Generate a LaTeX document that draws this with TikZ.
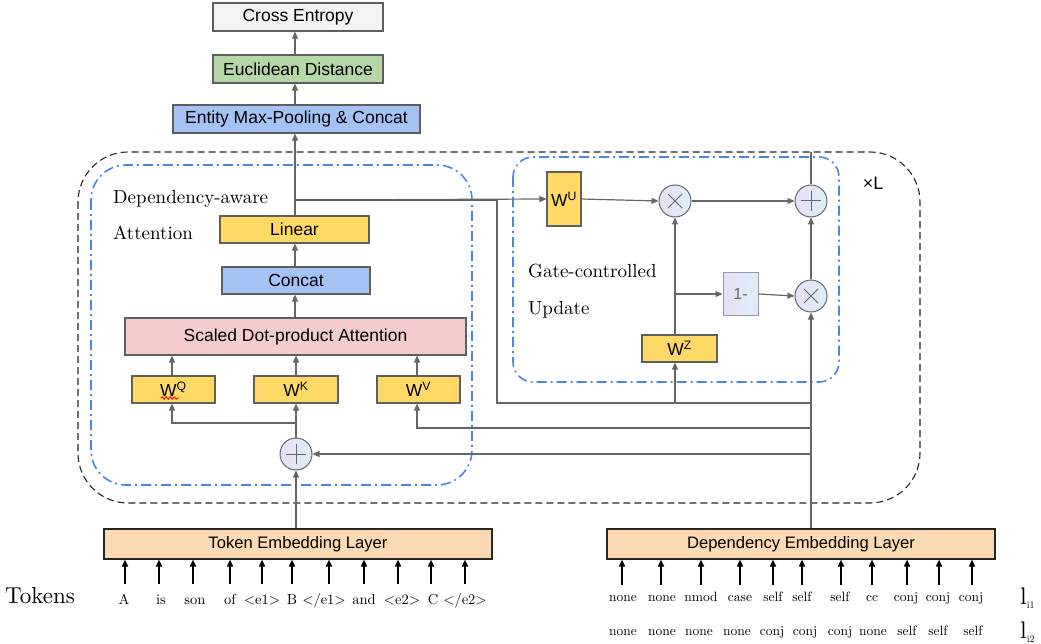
\documentclass[tikz,border=0pt]{standalone}
\usepackage{fontspec}
\newfontfamily\arialf{Liberation Sans}
\newfontfamily\lmten{lmroman10-regular}[Extension=.otf]
\usetikzlibrary{arrows.meta,decorations.pathmorphing,calc}
\definecolor{cYel}{HTML}{FFD966}
\definecolor{cBlue}{HTML}{A4C2F4}
\definecolor{cPink}{HTML}{F4CCCC}
\definecolor{cGreen}{HTML}{B6D7A8}
\definecolor{cGray}{HTML}{F3F3F3}
\definecolor{cPeach}{HTML}{FBD9B3}
\definecolor{cBorder}{HTML}{5F5F5F}
\definecolor{cLine}{HTML}{666666}
\definecolor{cLav}{HTML}{E9DFF6}
\definecolor{cLb}{HTML}{DDEEFA}
\definecolor{cDash}{HTML}{4A86E8}
\begin{document}
\begin{tikzpicture}[x=1pt,y=-1pt,
  conn/.style={draw=cLine, line width=1.2pt, -{Triangle[length=7pt,width=6pt]}},
  plain/.style={draw=cLine, line width=1.2pt},
  blk/.style={draw=black, line width=1.6pt, -{Triangle[length=7pt,width=6pt]}},
  box/.style={draw=cBorder, line width=1.1pt, inner sep=0pt, font=\arialf\fontsize{17.5}{20}\selectfont},
  embbox/.style={draw=black!85, line width=1.1pt, inner sep=0pt, fill=cPeach, font=\arialf\fontsize{16.6}{20}\selectfont},
  circ/.style={circle, draw=cLine, line width=1pt, minimum size=32pt, inner sep=0pt, left color=cLav, right color=cLb},
  plussym/.style={path picture={\draw[cLine, line width=1pt]
      ([xshift=-10pt]path picture bounding box.center) -- ([xshift=10pt]path picture bounding box.center)
      ([yshift=-10pt]path picture bounding box.center) -- ([yshift=10pt]path picture bounding box.center);}},
  timessym/.style={path picture={\draw[cLine, line width=1pt]
      ([shift={(-7pt,-7pt)}]path picture bounding box.center) -- ([shift={(7pt,7pt)}]path picture bounding box.center)
      ([shift={(-7pt,7pt)}]path picture bounding box.center) -- ([shift={(7pt,-7pt)}]path picture bounding box.center);}},
  serlbl/.style={anchor=base west, inner sep=0pt, font=\lmten\fontsize{19}{22}\selectfont},
  tok/.style={anchor=base, inner sep=0pt, font=\lmten\fontsize{14.5}{18}\selectfont},
  dep/.style={anchor=base, inner sep=0pt, font=\lmten\fontsize{13.5}{17}\selectfont},
  outerbox/.style={draw=black!85, line width=1.1pt, dash pattern=on 7pt off 4pt},
  dashdotbox/.style={draw=cDash, line width=1.6pt, dash pattern=on 10pt off 4pt on 2pt off 4pt}
]
\useasboundingbox (0,0) rectangle (1041,644);

% group frames
\draw[outerbox, rounded corners=50pt] (78,152) rectangle (920,503);
\draw[dashdotbox, rounded corners=35pt] (91,165) rectangle (472,485);
\draw[dashdotbox, rounded corners=20pt] (513,157) rectangle (839,382);

% top boxes
\node[box, fill=cGray, minimum width=170pt, minimum height=28pt] (cross) at (298,17) {Cross Entropy};
\node[box, fill=cGreen, minimum width=170pt, minimum height=28pt] (eucl) at (298,69) {Euclidean Distance};
\node[box, fill=cBlue, minimum width=247pt, minimum height=28pt] (entity) at (296.5,119) {Entity Max-Pooling \& Concat};

% attention block
\node[box, fill=cYel, minimum width=149pt, minimum height=27pt] (linear) at (294.5,229.5) {Linear};
\node[box, fill=cBlue, minimum width=148pt, minimum height=27pt] (concat) at (296,280.5) {Concat};
\node[box, fill=cPink, minimum width=341pt, minimum height=37pt] (sdpa) at (295.5,336.5) {Scaled Dot-product Attention};
\node[box, fill=cYel, minimum width=83pt, minimum height=27pt] (wq) at (173.5,389.5) {W\textsuperscript{Q}};
\node[box, fill=cYel, minimum width=84pt, minimum height=27pt] (wk) at (296,389.5) {W\textsuperscript{K}};
\node[box, fill=cYel, minimum width=83pt, minimum height=27pt] (wv) at (418.5,389.5) {W\textsuperscript{V}};
\node[circ, plussym] (plusL) at (296,454) {};
\draw[red, line width=0.9pt, decorate, decoration={snake, amplitude=1.2pt, segment length=4pt}] (161,398) -- (179,398);

\node[serlbl] (lblA1) at (113,204) {Dependency-aware};
\node[serlbl] (lblA2) at (113,240) {Attention};

% gate block
\node[box, fill=cYel, minimum width=34pt, minimum height=54pt] (wu) at (564,199) {W\textsuperscript{U}};
\node[circ, timessym] (mulU) at (675,201) {};
\node[circ, plussym] (plusR) at (811,201) {};
\node[circ, timessym] (mulL) at (811,296) {};
\node[draw=black!40, line width=1pt, left color=cLav, right color=cLb, minimum width=35pt, minimum height=42pt, inner sep=0pt, text=cLine, font=\arialf\fontsize{16}{18}\selectfont] (onem) at (740.5,294) {1-};
\node[box, fill=cYel, minimum width=75pt, minimum height=27pt] (wz) at (679.5,348.5) {W\textsuperscript{Z}};

\node[serlbl] (lblG1) at (528,278) {Gate-controlled};
\node[serlbl] (lblG2) at (528,314) {Update};
\node[inner sep=0pt, font=\arialf\fontsize{18}{20}\selectfont] (xl) at (873,183) {×L};

% embedding layers
\node[embbox, minimum width=388pt, minimum height=30pt] (tokemb) at (298,544) {Token Embedding Layer};
\node[embbox, minimum width=388pt, minimum height=30pt] (depemb) at (801,544) {Dependency Embedding Layer};

% junction coordinates
\coordinate (ju) at (295,200);
\coordinate (jd1) at (497,200);
\coordinate (jd2) at (497,403);
\coordinate (jd3) at (811,403);
\coordinate (jzb) at (675,403);
\coordinate (jv) at (811,428);
\coordinate (jp) at (811,454);
\coordinate (jq) at (296,423);
\coordinate (jz) at (675,294);
\coordinate (topL) at (811,152);

% top stack connectors
\draw[conn] (eucl.north -| 295,0) -- (cross.south -| 295,0);
\draw[conn] (entity.north -| 295,0) -- (eucl.south -| 295,0);
\draw[conn] (linear.north -| 295,0) -- (entity.south -| 295,0);
\draw[conn] (concat.north -| 295,0) -- (linear.south -| 295,0);
\draw[conn] (sdpa.north -| 295,0) -- (concat.south -| 295,0);
\draw[conn] (wq.north -| 172,0) -- (sdpa.south -| 172,0);
\draw[conn] (wk.north) -- (sdpa.south -| wk.north);
\draw[conn] (wv.north -| 417,0) -- (sdpa.south -| 417,0);
\draw[conn] (plusL.north) -- (wk.south);
\draw[conn] (jq) -| (wq.south -| 172,0);
\draw[conn] (tokemb.north -| plusL) -- (plusL.south);

% dependency stream
\draw[conn] (depemb.north -| mulL) -- (mulL.south);
\draw[conn] (jp) -- (plusL.east);
\draw[conn] (jv) -| (wv.south -| 417,0);

% linear output to gate
\draw[conn] (ju) -- (wu.west);
\draw[plain] (ju) -- (jd1) -- (jd2) -- (jd3);
\draw[conn] (jzb) -- (wz.south -| jzb);
\draw[conn] (wu.east) -- (mulU.west);
\draw[conn] (mulU.east) -- (plusR.west);
\draw[conn] (wz.north -| mulU) -- (mulU.south);
\draw[conn] (jz) -- (onem.west);
\draw[conn] (onem.east) -- (mulL.west);
\draw[conn] (mulL.north) -- (plusR.south);
\draw[plain] (plusR.north) -- (topL);

% tokens
\node[anchor=base west, inner sep=0pt, font=\lmten\fontsize{23}{26}\selectfont] (tokens) at (5,603) {Tokens};
\foreach \i/\xt/\xa/\w in {1/124/125/A, 2/161/159/is, 3/195/193/son, 4/230/230/of, 5/262/262/{<e1>}, 6/292/292/B, 7/324/329/{</e1>}, 8/364/364/and, 9/402/398/{<e2>}, 10/433/431/C, 11/465/465/{</e2>}}{
  \node[tok] (t\i) at (\xt,604) {\w};
  \coordinate (ta\i) at (\xa,584);
  \draw[blk] (ta\i) -- (ta\i |- tokemb.south);
}
\foreach \i/\xt/\xa/\w in {1/623/622/none, 2/662/661/none, 3/701/701/nmod, 4/740/740/case, 5/773/773/self, 6/802/802/self, 7/840/841/self, 8/872/872/cc, 9/906/907/conj, 10/938/939/conj, 11/971/972/conj}{
  \node[dep] (da\i) at (\xt,601) {\w};
  \coordinate (dc\i) at (\xa,585);
  \draw[blk] (dc\i) -- (dc\i |- depemb.south);
}
\foreach \i/\xt/\w in {1/623/none, 2/662/none, 3/699/none, 4/737/none, 5/772/conj, 6/805/conj, 7/840/conj, 8/873/none, 9/907/self, 10/938/self, 11/973/self}{
  \node[dep] (db\i) at (\xt,635) {\w};
}
\node[anchor=base west, inner sep=0pt] (li1) at (1020,604) {{\lmten\fontsize{24}{26}\selectfont l}\raisebox{-4pt}{\lmten\fontsize{10}{11}\selectfont i1}};
\node[anchor=base west, inner sep=0pt] (li2) at (1020,638) {{\lmten\fontsize{24}{26}\selectfont l}\raisebox{-4pt}{\lmten\fontsize{10}{11}\selectfont i2}};
\end{tikzpicture}
\end{document}
